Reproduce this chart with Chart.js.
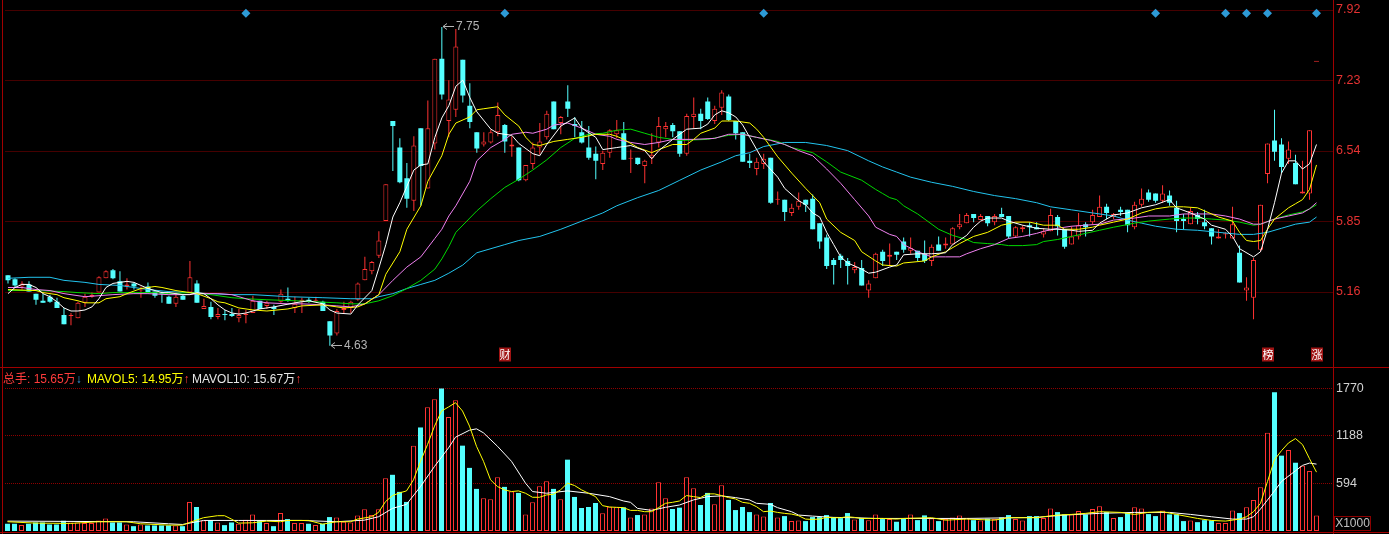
<!DOCTYPE html>
<html lang="zh-CN">
<head>
<meta charset="UTF-8">
<title>日K线</title>
<script src="https://cdn.jsdelivr.net/npm/chart.js"></script>
<style>
  html, body { margin: 0; padding: 0; background: #000; }
  body { position: relative; width: 1389px; height: 534px; overflow: hidden;
         font-family: "Liberation Sans", Arial, "Noto Sans CJK SC", sans-serif; }
  canvas { position: absolute; left: 0; display: block; }
  #price { top: 0; }
  #volume { top: 367px; }
  .rule { position: absolute; background: #a00000; }
  #volHead { position: absolute; top: 372px; left: 0; width: 400px; height: 14px;
             font-size: 12px; line-height: 14px; white-space: nowrap; }
  #volHead span { position: absolute; top: 0; }
  #unit { position: absolute; left: 1334px; top: 516px; width: 35px; height: 13px;
          border: 1px solid #8c0000; color: #c0c0c0; font-size: 12px; line-height: 13px; text-align: center; }
</style>
</head>
<body>
<canvas id="price" width="1389" height="367"></canvas>
<canvas id="volume" width="1389" height="167"></canvas>

<div class="rule" style="left:2px;top:0;width:1px;height:534px"></div>
<div class="rule" style="left:1333px;top:0;width:1px;height:534px"></div>
<div class="rule" style="left:0;top:367px;width:1389px;height:1px"></div>
<div class="rule" style="left:0;top:532px;width:1389px;height:1px"></div>

<div id="volHead">
  <span style="left:3px;color:#ff3c3c">总手: 15.65万<b style="font-weight:normal;color:#3a9fe6">↓</b></span>
  <span style="left:87px;color:#ffff00">MAVOL5: 14.95万<b style="font-weight:normal;color:#ff3c3c">↑</b></span>
  <span style="left:192px;color:#e6e6e6">MAVOL10: 15.67万<b style="font-weight:normal;color:#ff3c3c">↑</b></span>
</div>
<div id="unit">X1000</div>

<script>
// ---- daily bars ----
const open = [
  5.32,5.28,5.21,5.23,5.14,5.07,5.11,5.06,4.93,4.92,
  4.90,5.05,5.11,5.15,5.29,5.37,5.26,5.21,5.24,5.17,
  5.21,5.16,5.15,5.11,5.04,5.12,5.15,5.24,4.99,5.01,
  4.91,4.94,4.94,4.90,4.93,4.95,5.07,5.02,5.01,5.06,
  5.09,5.00,5.06,5.08,5.07,5.06,4.87,4.75,4.98,5.00,
  5.08,5.27,5.36,5.51,5.85,6.83,6.57,6.27,6.05,6.76,
  6.17,6.61,7.44,6.83,6.94,7.43,6.98,6.72,6.60,6.62,
  6.72,6.79,6.58,6.57,6.25,6.41,6.57,6.67,7.02,6.81,
  7.02,6.80,6.72,6.57,6.51,6.41,6.52,6.70,6.71,6.46,
  6.47,6.39,6.47,6.62,6.75,6.79,6.73,6.51,6.87,6.90,
  7.02,6.83,6.96,7.07,6.83,6.72,6.44,6.36,6.41,6.47,
  6.06,6.06,5.93,5.99,6.06,6.07,5.83,5.69,5.47,5.51,
  5.46,5.37,5.39,5.17,5.29,5.55,5.50,5.55,5.65,5.56,
  5.56,5.53,5.46,5.62,5.61,5.62,5.79,5.83,5.92,5.86,
  5.90,5.84,5.92,5.90,5.70,5.77,5.81,5.79,5.72,5.75,
  5.89,5.77,5.62,5.70,5.82,5.84,5.89,5.99,5.89,5.96,
  5.96,5.79,6.01,6.13,6.12,6.05,6.10,5.98,5.87,5.82,
  5.91,5.84,5.78,5.68,5.72,5.68,5.54,5.17,5.10,5.57,
  6.31,6.64,6.60,6.46,6.42,6.12,6.12,7.41
];
const high = [
  5.32,5.29,5.26,5.26,5.14,5.14,5.13,5.10,5.00,4.95,
  5.06,5.14,5.15,5.31,5.37,5.38,5.36,5.29,5.25,5.21,
  5.25,5.16,5.16,5.12,5.15,5.13,5.46,5.27,5.09,5.06,
  5.00,4.98,5.00,4.99,4.98,5.12,5.07,5.07,5.03,5.18,
  5.20,5.11,5.10,5.10,5.11,5.07,4.87,4.99,5.06,5.07,
  5.25,5.50,5.46,5.75,6.21,6.83,6.66,6.42,6.68,6.76,
  7.03,7.44,7.75,7.23,7.73,7.43,7.20,6.72,6.72,6.75,
  7.01,6.80,6.68,6.57,6.40,6.62,6.81,6.93,7.02,6.88,
  7.18,6.87,6.83,6.78,6.58,6.54,6.75,6.84,6.82,6.55,
  6.47,6.45,6.71,6.87,6.82,6.81,6.73,6.90,7.06,6.95,
  7.06,6.98,7.13,7.09,6.83,6.72,6.51,6.47,6.51,6.47,
  6.14,6.06,6.02,6.13,6.06,6.11,5.83,5.72,5.49,5.53,
  5.49,5.45,5.47,5.27,5.54,5.57,5.63,5.55,5.69,5.69,
  5.56,5.66,5.62,5.70,5.69,5.79,5.92,5.93,5.92,5.92,
  5.90,5.92,5.98,5.90,5.80,5.81,5.84,5.84,5.78,5.97,
  5.91,5.77,5.80,5.93,5.84,5.96,6.10,6.02,5.93,5.99,
  5.96,6.04,6.17,6.16,6.12,6.20,6.15,6.05,5.92,5.98,
  5.94,5.96,5.78,5.77,5.74,5.99,5.61,5.30,5.49,6.01,
  6.61,6.94,6.66,6.63,6.50,6.44,6.74,7.41
];
const low = [
  5.24,5.20,5.18,5.16,5.03,5.05,5.05,5.00,4.84,4.83,
  4.90,5.01,5.10,5.15,5.29,5.28,5.16,5.18,5.18,5.10,
  5.15,5.10,5.05,5.04,5.01,5.08,5.15,5.05,4.99,4.89,
  4.89,4.88,4.91,4.86,4.85,4.95,4.99,4.99,4.93,5.05,
  5.06,4.95,4.95,5.05,5.06,4.97,4.63,4.73,4.95,4.95,
  5.07,5.27,5.33,5.49,5.85,6.34,6.22,5.98,5.95,6.00,
  6.17,6.55,7.04,6.67,6.87,7.01,6.76,6.52,6.58,6.61,
  6.68,6.52,6.48,6.24,6.24,6.36,6.50,6.65,6.75,6.70,
  6.87,6.67,6.61,6.45,6.26,6.35,6.47,6.66,6.45,6.32,
  6.40,6.22,6.41,6.57,6.67,6.67,6.48,6.49,6.76,6.75,
  6.84,6.80,6.89,6.83,6.65,6.43,6.37,6.30,6.36,6.02,
  6.01,5.85,5.90,5.96,5.94,5.77,5.58,5.38,5.23,5.39,
  5.23,5.34,5.22,5.10,5.29,5.41,5.41,5.47,5.54,5.53,
  5.46,5.44,5.41,5.56,5.58,5.62,5.77,5.83,5.84,5.86,
  5.80,5.81,5.89,5.68,5.69,5.74,5.70,5.77,5.69,5.75,
  5.71,5.58,5.62,5.67,5.70,5.82,5.89,5.87,5.87,5.90,
  5.74,5.77,5.99,6.04,6.03,6.03,6.00,5.74,5.77,5.82,
  5.82,5.77,5.62,5.68,5.68,5.68,5.25,5.07,4.89,5.55,
  6.22,6.44,6.32,6.41,6.21,6.12,6.06,7.41
];
const close = [
  5.27,5.22,5.24,5.16,5.08,5.05,5.06,5.00,4.84,4.93,
  5.05,5.11,5.13,5.30,5.36,5.29,5.16,5.23,5.21,5.18,
  5.15,5.12,5.14,5.04,5.11,5.08,5.30,5.05,5.02,4.91,
  4.94,4.93,4.92,4.93,4.94,5.07,4.99,5.05,4.99,5.14,
  5.07,5.04,5.08,5.06,5.08,4.97,4.73,4.97,5.00,5.06,
  5.24,5.38,5.45,5.66,6.21,6.78,6.23,6.07,6.59,6.39,
  6.76,7.44,7.09,7.04,7.56,7.08,6.82,6.56,6.63,6.72,
  6.89,6.63,6.60,6.25,6.40,6.57,6.63,6.90,6.75,6.87,
  6.95,6.78,6.62,6.47,6.44,6.52,6.74,6.74,6.45,6.47,
  6.41,6.44,6.50,6.78,6.78,6.73,6.51,6.88,6.90,6.83,
  6.85,6.95,7.11,6.84,6.71,6.43,6.42,6.43,6.46,6.03,
  6.07,5.94,5.98,6.05,6.01,5.77,5.65,5.41,5.42,5.47,
  5.41,5.40,5.22,5.24,5.53,5.46,5.52,5.52,5.57,5.59,
  5.49,5.46,5.60,5.56,5.63,5.78,5.82,5.91,5.88,5.90,
  5.83,5.90,5.89,5.70,5.79,5.79,5.79,5.77,5.75,5.91,
  5.80,5.60,5.70,5.81,5.79,5.91,5.99,5.93,5.92,5.94,
  5.81,6.01,6.07,6.06,6.05,6.12,6.03,5.85,5.85,5.95,
  5.87,5.80,5.70,5.70,5.73,5.82,5.25,5.20,5.47,6.01,
  6.61,6.53,6.38,6.55,6.21,6.14,6.74,7.41
];
// volume, unit x1000
const volume = [
  90,90,73,90,106,106,81,81,127,106,
  106,98,98,131,156,106,106,81,60,81,
  69,69,69,69,69,60,361,298,131,131,
  106,73,106,90,140,206,123,98,60,223,
  148,98,98,90,73,90,173,169,115,106,
  194,269,198,269,656,698,486,361,1060,1286,
  1536,1636,1770,1415,1624,1060,784,523,406,394,
  669,548,490,473,206,356,556,619,523,394,
  886,423,286,298,348,219,302,294,294,169,
  198,206,281,606,406,273,290,669,531,323,
  473,331,569,386,260,298,235,206,181,348,
  169,185,123,131,123,173,173,198,173,160,
  223,144,160,135,206,148,148,115,152,206,
  135,194,156,123,148,169,194,165,135,131,
  152,148,169,198,148,131,185,185,160,281,
  235,206,206,248,206,273,306,235,160,173,
  223,294,281,210,185,256,206,206,123,131,
  110,135,131,98,98,256,223,294,386,544,
  1219,1723,936,1006,848,811,744,194
];

// moving average lines: [bar index, value]
const ma5 = [[0,5.14],[1,5.20],[2,5.23],[3,5.23],[4,5.20],[5,5.14],[6,5.11],[7,5.06],[8,5.00],[9,4.97],[10,4.97],[11,4.98],[12,5.01],[13,5.09],[14,5.20],[15,5.24],[16,5.25],[17,5.26],[18,5.25],[19,5.22],[20,5.19],[21,5.17],[22,5.15],[23,5.15],[24,5.14],[25,5.13],[26,5.13],[27,5.15],[28,5.14],[29,5.09],[30,5.03],[31,4.98],[32,4.95],[33,4.94],[34,4.95],[36,4.99],[38,5.01],[41,5.05],[43,5.07],[45,5.04],[46,4.98],[47,4.95],[49,4.94],[50,5.03],[52,5.17],[53,5.39],[54,5.62],[55,5.89],[56,6.03],[57,6.19],[58,6.35],[59,6.40],[60,6.41],[61,6.67],[62,6.86],[63,6.98],[64,7.17],[65,7.23],[66,7.06],[67,6.92],[69,6.75],[70,6.71],[72,6.69],[73,6.61],[75,6.51],[76,6.49],[77,6.60],[79,6.78],[81,6.86],[82,6.76],[84,6.67],[85,6.55],[87,6.57],[88,6.58],[89,6.59],[91,6.54],[92,6.46],[93,6.54],[95,6.65],[97,6.75],[99,6.76],[100,6.80],[101,6.89],[102,6.93],[103,6.91],[104,6.87],[105,6.79],[106,6.67],[107,6.55],[108,6.43],[110,6.28],[111,6.17],[113,6.05],[114,6.01],[115,5.93],[116,5.89],[117,5.74],[118,5.62],[119,5.50],[120,5.44],[122,5.38],[123,5.34],[124,5.35],[126,5.40],[127,5.42],[128,5.52],[130,5.53],[132,5.53],[134,5.54],[135,5.62],[137,5.71],[138,5.79],[139,5.85],[140,5.88],[142,5.88],[143,5.85],[145,5.81],[147,5.78],[149,5.77],[150,5.77],[152,5.76],[153,5.75],[155,5.76],[156,5.83],[158,5.91],[160,5.93],[162,5.98],[164,6.01],[166,6.06],[167,5.98],[169,5.93],[171,5.87],[172,5.81],[174,5.77],[175,5.70],[176,5.58],[178,5.50],[179,5.55],[180,5.77],[181,6.03],[182,6.32],[183,6.44],[184,6.44],[185,6.36],[186,6.41],[187,6.60]];
const ma10 = [[0,5.18],[4,5.17],[5,5.15],[7,5.13],[8,5.10],[10,5.07],[11,5.05],[13,5.05],[14,5.09],[16,5.11],[17,5.14],[19,5.19],[21,5.21],[22,5.20],[24,5.17],[26,5.15],[27,5.14],[29,5.09],[30,5.06],[31,5.05],[33,5.00],[35,4.98],[37,4.97],[40,4.99],[42,5.02],[45,5.03],[47,5.01],[48,5.00],[50,5.01],[51,5.04],[53,5.13],[54,5.33],[56,5.55],[57,5.77],[59,6.00],[60,6.24],[62,6.49],[63,6.70],[64,6.81],[66,6.87],[67,6.94],[68,6.95],[70,6.97],[71,6.89],[73,6.78],[74,6.67],[75,6.60],[76,6.59],[78,6.63],[80,6.65],[82,6.67],[84,6.70],[86,6.70],[87,6.68],[88,6.65],[90,6.57],[92,6.52],[93,6.55],[95,6.60],[97,6.60],[98,6.65],[99,6.71],[101,6.76],[102,6.83],[104,6.83],[106,6.81],[107,6.75],[108,6.67],[110,6.48],[112,6.32],[114,6.17],[116,6.03],[117,5.87],[119,5.74],[121,5.66],[122,5.55],[124,5.46],[125,5.42],[127,5.41],[128,5.44],[131,5.46],[132,5.50],[134,5.55],[136,5.63],[138,5.70],[140,5.74],[142,5.81],[144,5.84],[146,5.84],[148,5.81],[150,5.81],[151,5.77],[153,5.77],[155,5.79],[156,5.81],[158,5.84],[160,5.87],[162,5.93],[164,5.97],[166,5.99],[168,5.99],[170,5.98],[171,5.95],[173,5.89],[175,5.85],[176,5.74],[177,5.66],[178,5.65],[179,5.66],[180,5.77],[181,5.87],[183,5.98],[184,6.02],[185,6.06],[186,6.16],[187,6.40]];
const ma20 = [[0,5.20],[2,5.20],[4,5.18],[6,5.17],[8,5.14],[11,5.11],[13,5.12],[15,5.13],[18,5.14],[20,5.14],[23,5.13],[25,5.13],[28,5.14],[30,5.14],[32,5.13],[33,5.11],[35,5.07],[37,5.05],[40,5.04],[42,5.04],[45,5.03],[47,5.02],[49,5.01],[51,5.04],[53,5.13],[55,5.27],[57,5.40],[59,5.50],[61,5.68],[62,5.77],[63,5.90],[64,6.00],[66,6.24],[67,6.44],[69,6.57],[71,6.65],[72,6.70],[74,6.72],[75,6.71],[77,6.75],[78,6.79],[80,6.81],[82,6.76],[84,6.70],[86,6.68],[87,6.65],[89,6.62],[91,6.60],[93,6.62],[95,6.65],[98,6.65],[101,6.66],[103,6.70],[105,6.70],[107,6.67],[109,6.64],[111,6.60],[113,6.54],[115,6.49],[117,6.36],[119,6.22],[121,6.06],[123,5.90],[124,5.79],[126,5.72],[127,5.70],[128,5.62],[130,5.55],[132,5.50],[134,5.50],[136,5.50],[137,5.53],[139,5.58],[141,5.62],[143,5.68],[145,5.70],[147,5.73],[148,5.75],[150,5.78],[152,5.80],[154,5.81],[156,5.82],[158,5.86],[161,5.88],[163,5.90],[166,5.90],[168,5.92],[170,5.92],[172,5.92],[174,5.90],[176,5.87],[178,5.82],[179,5.82],[181,5.87],[183,5.90],[185,5.93],[186,5.97],[187,6.03]];
const ma30 = [[0,5.17],[4,5.17],[8,5.16],[10,5.15],[13,5.14],[15,5.15],[18,5.15],[21,5.15],[23,5.14],[26,5.15],[29,5.13],[32,5.10],[34,5.09],[37,5.08],[41,5.07],[44,5.06],[47,5.05],[49,5.04],[51,5.04],[53,5.07],[55,5.12],[57,5.19],[59,5.27],[61,5.38],[62,5.48],[63,5.60],[64,5.74],[66,5.88],[67,5.95],[69,6.07],[71,6.18],[73,6.26],[75,6.35],[77,6.45],[79,6.57],[81,6.66],[83,6.70],[85,6.71],[87,6.74],[89,6.75],[91,6.71],[93,6.67],[96,6.64],[100,6.65],[103,6.69],[105,6.70],[107,6.67],[110,6.63],[112,6.57],[115,6.52],[117,6.43],[119,6.33],[122,6.25],[124,6.16],[125,6.12],[126,6.08],[127,6.06],[128,6.00],[130,5.92],[133,5.77],[135,5.71],[137,5.67],[138,5.64],[140,5.63],[142,5.62],[143,5.61],[145,5.61],[147,5.62],[148,5.65],[150,5.67],[152,5.70],[154,5.73],[156,5.76],[158,5.79],[161,5.83],[163,5.85],[166,5.87],[168,5.88],[170,5.88],[172,5.87],[174,5.86],[176,5.84],[178,5.81],[179,5.82],[181,5.87],[183,5.91],[185,5.94],[186,5.97],[187,6.01]];
const ma60 = [[0,5.29],[3,5.30],[6,5.30],[8,5.27],[11,5.25],[13,5.23],[16,5.22],[18,5.20],[20,5.18],[23,5.16],[26,5.15],[29,5.14],[32,5.13],[35,5.13],[40,5.11],[45,5.10],[49,5.09],[52,5.09],[53,5.11],[55,5.14],[57,5.19],[59,5.23],[61,5.27],[63,5.34],[65,5.42],[67,5.54],[71,5.62],[73,5.66],[76,5.70],[79,5.77],[82,5.85],[85,5.93],[87,6.00],[90,6.08],[93,6.15],[96,6.25],[99,6.35],[102,6.43],[104,6.49],[106,6.52],[108,6.58],[111,6.62],[114,6.62],[117,6.59],[120,6.54],[123,6.44],[125,6.38],[127,6.33],[129,6.28],[132,6.23],[135,6.19],[138,6.14],[141,6.10],[144,6.07],[147,6.03],[149,5.99],[152,5.96],[155,5.93],[158,5.90],[160,5.86],[162,5.83],[164,5.80],[167,5.77],[170,5.76],[173,5.74],[176,5.72],[178,5.72],[180,5.74],[182,5.78],[184,5.82],[186,5.84],[187,5.89]];
const mavol5 = [[0,115],[4,98],[9,94],[13,115],[17,115],[19,90],[23,73],[25,73],[26,106],[28,165],[30,190],[31,190],[32,148],[33,98],[35,102],[37,123],[39,115],[40,131],[43,131],[45,85],[47,115],[49,115],[50,148],[52,177],[53,231],[54,365],[55,440],[56,473],[57,498],[58,636],[59,865],[60,1073],[61,1302],[62,1490],[63,1540],[64,1594],[65,1490],[66,1303],[67,1052],[68,865],[69,636],[70,552],[71,511],[72,490],[73,498],[74,469],[75,419],[76,419],[77,448],[78,456],[79,511],[80,594],[81,565],[82,511],[83,469],[84,427],[85,315],[86,298],[87,294],[88,290],[89,256],[90,256],[91,240],[92,240],[93,290],[94,344],[95,356],[96,373],[97,440],[98,427],[99,415],[100,461],[101,461],[102,440],[103,415],[104,398],[105,356],[106,344],[107,302],[108,240],[109,248],[110,231],[111,219],[112,210],[113,190],[114,148],[115,144],[116,148],[117,169],[118,165],[119,165],[120,177],[121,169],[122,156],[123,156],[124,156],[125,156],[126,152],[127,148],[128,156],[132,165],[134,135],[137,148],[141,135],[143,165],[147,165],[148,177],[150,198],[152,206],[154,219],[156,240],[159,231],[161,206],[163,231],[165,240],[167,206],[170,156],[172,131],[174,123],[176,148],[177,177],[178,240],[179,344],[180,615],[181,886],[182,998],[183,1094],[184,1148],[185,1073],[186,898],[187,731]];
const mavol10 = [[0,123],[18,115],[23,90],[25,81],[28,131],[33,131],[37,131],[42,131],[47,115],[51,135],[53,177],[55,281],[57,331],[59,552],[61,802],[63,1032],[64,1165],[66,1252],[67,1269],[68,1219],[70,1052],[72,865],[74,594],[75,490],[77,469],[80,498],[83,469],[86,427],[88,373],[89,356],[90,281],[92,256],[94,294],[96,323],[98,386],[100,427],[102,436],[104,415],[106,386],[107,344],[109,331],[110,290],[112,240],[113,198],[115,185],[118,169],[121,165],[124,156],[128,156],[137,156],[147,169],[151,198],[156,219],[161,231],[166,231],[169,206],[172,177],[175,148],[177,148],[178,177],[179,273],[181,498],[182,615],[184,748],[185,815],[186,844],[187,831]];

const priceTicks = [5.16, 5.85, 6.54, 7.23, 7.92];
const volTicks = [594, 1188, 1770];
const signalDays = [34, 71, 108, 164, 174, 177, 180, 187];   // blue diamonds on top
const eventTags = [[71, '财'], [180, '榜'], [187, '涨']];

// ---- drawing ----
const N = close.length;
const labels = Array.from({ length: N + 2 }, (_, i) => String(i));
const FONT = '"Liberation Sans", Arial, sans-serif';
const UP = '#ff3232', DOWN = '#54ffff';
const isUp = close.map((c, i) => c >= open[i]);
const barColor = isUp.map(u => u ? UP : DOWN);

function spread(pairs) {
  const out = new Array(N).fill(null);
  pairs.forEach(([i, v]) => { out[i] = v; });
  return out;
}
function lineSet(label, pairs, color) {
  return { type: 'line', label, data: spread(pairs), borderColor: color, borderWidth: 1,
           pointRadius: 0, spanGaps: true, tension: 0, order: 1 };
}

const dotGrid = {
  id: 'dotGrid',
  beforeDatasetsDraw(chart) {
    const { ctx, chartArea: a, scales: { y } } = chart;
    ctx.save();
    ctx.strokeStyle = '#8c0000';
    ctx.lineWidth = 1;
    ctx.setLineDash([1, 1]);
    y.ticks.forEach(t => {
      const py = Math.round(y.getPixelForValue(t.value)) + 0.5;
      ctx.beginPath(); ctx.moveTo(a.left + 1, py); ctx.lineTo(a.right, py); ctx.stroke();
    });
    ctx.restore();
  }
};

// high / low pointers and event tags
const priceMarks = {
  id: 'priceMarks',
  afterDatasetsDraw(chart) {
    const { ctx, chartArea: a, scales: { x, y } } = chart;
    let hi = 0, lo = 0;
    for (let i = 1; i < N; i++) {
      if (high[i] > high[hi]) hi = i;
      if (low[i] < low[lo]) lo = i;
    }
    ctx.save();
    ctx.strokeStyle = '#b4b4b4';
    ctx.fillStyle = '#b4b4b4';
    ctx.lineWidth = 1;
    ctx.font = '12px ' + FONT;
    ctx.textBaseline = 'middle';
    [[hi, high[hi]], [lo, low[lo]]].forEach(([i, v]) => {
      const px = Math.round(x.getPixelForValue(i)) + 1;
      const py = Math.round(y.getPixelForValue(v)) - 0.5;
      ctx.beginPath();
      ctx.moveTo(px, py); ctx.lineTo(px + 11, py);
      ctx.moveTo(px + 4, py - 3); ctx.lineTo(px, py); ctx.lineTo(px + 4, py + 3);
      ctx.stroke();
      ctx.fillText(v.toFixed(2), px + 13, py);
    });
    ctx.font = '11px "Noto Sans CJK SC", sans-serif';
    ctx.textAlign = 'center';
    eventTags.forEach(([i, t]) => {
      const px = Math.round(x.getPixelForValue(i));
      ctx.fillStyle = '#a01414';
      ctx.fillRect(px - 6, a.bottom - 15, 12, 14);
      ctx.fillStyle = '#ffffff';
      ctx.fillText(t, px, a.bottom - 8);
    });
    ctx.restore();
  }
};

const fixedAxis = (width) => (s) => { s.width = width; s.paddingTop = 0; s.paddingBottom = 0; };

new Chart(document.getElementById('price'), {
  type: 'bar',
  data: {
    labels,
    datasets: [
      { type: 'line', label: 'signal', data: spread(signalDays.map(i => [i, 7.885])), showLine: false,
        pointStyle: 'rectRot', pointRadius: 4.5, pointBackgroundColor: '#2e9ad6', pointBorderWidth: 0, order: 0 },
      lineSet('MA5', ma5, '#ffffff'),
      lineSet('MA10', ma10, '#ffff00'),
      lineSet('MA20', ma20, '#f080f0'),
      lineSet('MA30', ma30, '#00d800'),
      lineSet('MA60', ma60, '#22c4ee'),
      { label: 'body', data: close.map((c, i) => [open[i], c]), grouped: false, barThickness: 5,
        backgroundColor: isUp.map(u => u ? '#000000' : DOWN), borderColor: barColor,
        borderWidth: isUp.map(u => u ? 1 : 0), borderSkipped: false, minBarLength: 1, inflateAmount: 0, order: 2 },
      { label: 'wick', data: high.map((h, i) => [low[i], h]), grouped: false, barThickness: 1,
        backgroundColor: barColor, borderWidth: 0, inflateAmount: 0, order: 3 }
    ]
  },
  options: {
    responsive: false, animation: false, events: [],
    layout: { padding: { left: 4, right: 0, top: 0, bottom: 0 } },
    plugins: { legend: { display: false }, tooltip: { enabled: false } },
    scales: {
      x: { display: false, offset: true },
      y: {
        position: 'right', min: 4.4657, max: 7.9706,
        afterBuildTicks: s => { s.ticks = priceTicks.map(v => ({ value: v })); },
        afterFit: fixedAxis(55),
        grid: { display: false, drawTicks: false, tickLength: 0 }, border: { display: false },
        ticks: { color: '#e63232', padding: 2, font: { size: 12.5, family: FONT }, callback: v => v.toFixed(2) }
      }
    }
  },
  plugins: [dotGrid, priceMarks]
});

new Chart(document.getElementById('volume'), {
  type: 'bar',
  data: {
    labels,
    datasets: [
      lineSet('MAVOL5', mavol5, '#ffff00'),
      lineSet('MAVOL10', mavol10, '#ffffff'),
      { label: 'volume', data: volume, grouped: false, barThickness: 5,
        backgroundColor: isUp.map(u => u ? '#000000' : DOWN), borderColor: barColor,
        borderWidth: isUp.map(u => u ? 1 : 0), borderSkipped: false, inflateAmount: 0, order: 2 }
    ]
  },
  options: {
    responsive: false, animation: false, events: [],
    layout: { padding: { left: 4, right: 0, top: 0, bottom: 3 } },
    plugins: { legend: { display: false }, tooltip: { enabled: false } },
    scales: {
      x: { display: false, offset: true },
      y: {
        position: 'right', min: 0, max: 2037,
        afterBuildTicks: s => { s.ticks = volTicks.map(v => ({ value: v })); },
        afterFit: fixedAxis(55),
        grid: { display: false, drawTicks: false, tickLength: 0 }, border: { display: false },
        ticks: { color: '#d2d2d2', padding: 2, font: { size: 12.5, family: FONT }, callback: v => String(v) }
      }
    }
  },
  plugins: [dotGrid]
});
</script>
</body>
</html>
